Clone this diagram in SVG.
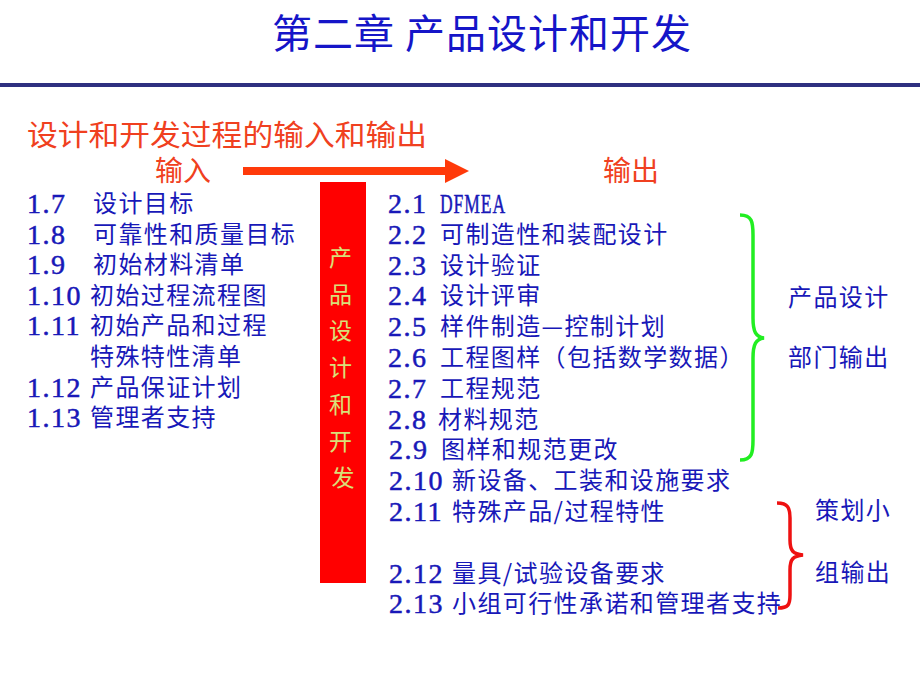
<svg xmlns="http://www.w3.org/2000/svg" width="920" height="690" viewBox="0 0 920 690">
<style>
.cjk{font-family:"Noto Sans CJK SC","Noto Sans",sans-serif;}
.item{font-family:"Noto Sans CJK SC","Noto Sans",sans-serif;font-size:24px;fill:#1818b8;letter-spacing:1.4px;}
.num{font-family:"Liberation Serif","Noto Sans CJK SC",serif;font-size:28px;fill:#1818b8;letter-spacing:1.5px;stroke:#1818b8;stroke-width:0.5px;}
.red{fill:#f04020;}
.bar{font-family:"Noto Sans CJK SC",sans-serif;font-size:23px;fill:#d8e07a;}
</style>
<rect width="920" height="690" fill="#ffffff"/>
<g id="title">
<text class="cjk" x="482" y="48" font-size="40" fill="#1515c8" text-anchor="middle" letter-spacing="1">第二章 产品设计和开发</text>
<rect x="0" y="83" width="920" height="4" fill="#2e3080"/>
</g>
<g id="subtitle">
<text class="cjk red" x="27" y="146" font-size="29" textLength="400" lengthAdjust="spacingAndGlyphs">设计和开发过程的输入和输出</text>
</g>
<g id="input-label"><text class="cjk red" x="155" y="181" font-size="28">输入</text></g>
<g id="output-label"><text class="cjk red" x="603" y="181" font-size="28">输出</text></g>

<g id="inputs">
<text class="num" x="27" y="213">1.7</text><text class="item" x="93" y="212">设计目标</text>
<text class="num" x="27" y="243.6">1.8</text><text class="item" x="93" y="242.6">可靠性和质量目标</text>
<text class="num" x="27" y="274.2">1.9</text><text class="item" x="93" y="273.2">初始材料清单</text>
<text class="num" x="27" y="304.8">1.10</text><text class="item" x="90" y="303.8">初始过程流程图</text>
<text class="num" x="27" y="335.4">1.11</text><text class="item" x="90" y="334.4">初始产品和过程</text>
<text class="item" x="90" y="365">特殊特性清单</text>
<text class="num" x="27" y="396.6">1.12</text><text class="item" x="90" y="395.6">产品保证计划</text>
<text class="num" x="27" y="427.2">1.13</text><text class="item" x="90" y="426.2">管理者支持</text>
</g>

<g id="process">
<rect x="320" y="182" width="46" height="401" fill="#ff0000"/>
<text class="bar" text-anchor="middle">
<tspan x="343" y="266">产</tspan>
<tspan x="343" y="302.7">品</tspan>
<tspan x="343" y="339.4">设</tspan>
<tspan x="343" y="376.1">计</tspan>
<tspan x="343" y="412.8">和</tspan>
<tspan x="343" y="449.5">开</tspan>
<tspan x="343" y="486.2">发</tspan>
</text>
</g>

<g id="outputs">
<text class="num" x="388" y="213">2.1</text><text class="num" x="440" y="213" textLength="66" lengthAdjust="spacingAndGlyphs">DFMEA</text>
<text class="num" x="388" y="243.8">2.2</text><text class="item" x="440" y="242.8">可制造性和装配设计</text>
<text class="num" x="388" y="274.6">2.3</text><text class="item" x="440" y="273.6">设计验证</text>
<text class="num" x="388" y="305.4">2.4</text><text class="item" x="440" y="304.4">设计评审</text>
<text class="num" x="388" y="336.2">2.5</text><text class="item" x="440" y="335.2">样件制造—控制计划</text>
<text class="num" x="388" y="367">2.6</text><text class="item" x="440" y="366">工程图样（包括数学数据）</text>
<text class="num" x="388" y="397.8">2.7</text><text class="item" x="440" y="396.8">工程规范</text>
<text class="num" x="388" y="428.6">2.8</text><text class="item" x="438" y="427.6">材料规范</text>
<text class="num" x="389" y="459.4">2.9</text><text class="item" x="441" y="458.4">图样和规范更改</text>
<text class="num" x="389" y="490.2">2.10</text><text class="item" x="452" y="489.2">新设备、工装和设施要求</text>
<text class="num" x="389" y="521">2.11</text><text class="item" x="452" y="520">特殊产品/过程特性</text>
<text class="num" x="389" y="582.6">2.12</text><text class="item" x="452" y="581.6">量具/试验设备要求</text>
<text class="num" x="389" y="613.4">2.13</text><text class="item" x="452" y="612.4">小组可行性承诺和管理者支持</text>
</g>

<g id="dept-output">
<text class="item" x="788" y="306">产品设计</text>
<text class="item" x="788" y="366">部门输出</text>
</g>
<g id="team-output">
<text class="item" x="815" y="519">策划小</text>
<text class="item" x="815" y="581">组输出</text>
</g>

<g id="connectors" fill="none">
<line x1="243" y1="171" x2="448" y2="171" stroke="#ff3a0a" stroke-width="8"/>
<polygon points="445,159 469,171 445,183" fill="#ff3a0a"/>
<path d="M740,215 C752,215 753,222 753,235 L753,318 C753,332 756,337 764,338 C756,339 753,344 753,358 L753,440 C753,453 752,460 740,460" stroke="#22ee22" stroke-width="3.5"/>
<path d="M777,503 C788,503 790,508 790,518 L790,540 C790,551 793,554 803,555 C793,556 790,559 790,570 L790,595 C790,605 788,608 778,608" stroke="#ee1111" stroke-width="3.5"/>
</g>
</svg>
